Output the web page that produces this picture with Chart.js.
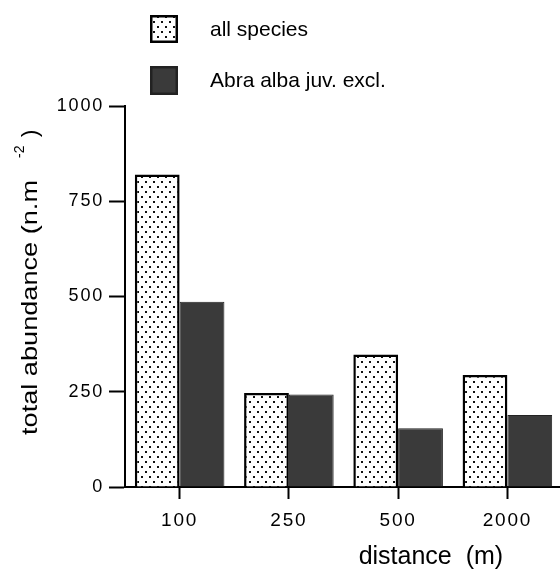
<!DOCTYPE html>
<html>
<head>
<meta charset="utf-8">
<script src="https://cdn.jsdelivr.net/npm/chart.js@4/dist/chart.umd.min.js"></script>
<style>
  html, body { margin: 0; padding: 0; background: #fff; overflow: hidden; }
  #wrap { position: relative; width: 566px; height: 572px; }
</style>
</head>
<body>
<div id="wrap"><canvas id="c"></canvas></div>
<script>
// Sampling distances and abundance values
const distances = ['100', '250', '500', '2000'];
const allSpecies = [820, 247, 348, 294];
const abraExcluded = [486, 243, 154, 189];
const yTicks = [0, 250, 500, 750, 1000];

const seriesNames = ['all species', 'Abra alba juv. excl.'];
const xTitle = 'distance  (m)';
const yTitleMain = 'total abundance (n.m';
const yTitleSup = '-2';
const yTitleEnd = ')';

const FONT = '"Liberation Sans", Arial, Helvetica, sans-serif';
const INK = '#000';

// Stipple fill: staggered dots on white
function makeStipple() {
  const c = document.createElement('canvas');
  c.width = 8; c.height = 10;
  const g = c.getContext('2d');
  g.fillStyle = '#fff';
  g.fillRect(0, 0, 8, 10);
  g.fillStyle = '#111';
  g.fillRect(1, 1, 2, 2);
  g.fillRect(5, 6, 2, 2);
  return g.createPattern(c, 'repeat');
}
const stipple = makeStipple();
const darkFill = '#3a3a3a';

// Wide tick lettering
const tickSpacing = {
  id: 'tickSpacing',
  beforeDraw(chart) { chart.ctx.letterSpacing = '1.8px'; },
  afterDatasetsDraw(chart) { chart.ctx.letterSpacing = '0px'; }
};

// Legend column and axis titles
const captions = {
  id: 'captions',
  afterDraw(chart) {
    const ctx = chart.ctx, a = chart.chartArea;
    ctx.save();
    ctx.letterSpacing = '0px';
    ctx.fillStyle = INK;

    // legend
    const boxes = [{ x: 150, y: 15, w: 28, h: 28 }, { x: 150, y: 66, w: 28, h: 29 }];
    chart.data.datasets.forEach((ds, i) => {
      const b = boxes[i];
      ctx.fillStyle = ds.backgroundColor;
      ctx.fillRect(b.x, b.y, b.w, b.h);
      ctx.lineWidth = 2.5;
      ctx.strokeStyle = i === 0 ? INK : '#222';
      ctx.strokeRect(b.x + 1.25, b.y + 1.25, b.w - 2.5, b.h - 2.5);
      ctx.fillStyle = INK;
      ctx.font = '21px ' + FONT;
      ctx.textAlign = 'left';
      ctx.textBaseline = 'middle';
      ctx.fillText(ds.label, 210, b.y + b.h / 2 + 1);
    });

    // x title
    ctx.font = '25px ' + FONT;
    ctx.textAlign = 'center';
    ctx.textBaseline = 'middle';
    ctx.fillText(xTitle, a.left + 0.70 * (a.right - a.left), 557);

    // y title, rotated, with superscript exponent
    ctx.translate(37, 435);
    ctx.rotate(-Math.PI / 2);
    ctx.textAlign = 'left';
    ctx.textBaseline = 'alphabetic';
    ctx.font = '22px ' + FONT;
    const w = ctx.measureText(yTitleMain).width;
    ctx.save();
    ctx.scale(255 / w, 1);
    ctx.fillText(yTitleMain, 0, 0);
    ctx.restore();
    ctx.font = '14px ' + FONT;
    ctx.fillText(yTitleSup, 277, -13);
    ctx.font = '22px ' + FONT;
    ctx.fillText(yTitleEnd, 298, 0);
    ctx.restore();
  }
};

new Chart(document.getElementById('c'), {
  type: 'bar',
  data: {
    labels: distances,
    datasets: [
      {
        label: seriesNames[0],
        data: allSpecies,
        backgroundColor: stipple,
        borderColor: INK,
        borderWidth: 2.5,
        borderSkipped: 'start'
      },
      {
        label: seriesNames[1],
        data: abraExcluded,
        backgroundColor: darkFill,
        borderColor: '#222',
        borderWidth: 1,
        borderSkipped: 'start'
      }
    ]
  },
  options: {
    responsive: true,
    maintainAspectRatio: false,
    animation: false,
    devicePixelRatio: 1,
    layout: { padding: { top: 106, right: 4, left: 0, bottom: 0 } },
    datasets: { bar: { categoryPercentage: 0.82, barPercentage: 1.0 } },
    plugins: {
      legend: { display: false },
      tooltip: { enabled: false },
      title: { display: false }
    },
    scales: {
      x: {
        offset: true,
        grid: {
          offset: false,
          drawOnChartArea: false,
          drawTicks: true,
          tickLength: 12,
          tickWidth: 2,
          tickColor: INK
        },
        border: { display: true, color: INK, width: 2 },
        ticks: {
          color: INK,
          padding: 10,
          font: { family: FONT, size: 19 }
        },
        afterFit(scale) { scale.height = 85; }
      },
      y: {
        min: 0,
        max: 1000,
        afterBuildTicks(scale) { scale.ticks = yTicks.map(v => ({ value: v })); },
        grid: {
          drawOnChartArea: false,
          drawTicks: true,
          tickLength: 16,
          tickWidth: 2,
          tickColor: INK
        },
        border: { display: true, color: INK, width: 2 },
        ticks: {
          color: INK,
          padding: 5,
          font: { family: FONT, size: 18 },
          callback: v => String(v)
        },
        afterFit(scale) { scale.width = 125; }
      }
    }
  },
  plugins: [tickSpacing, captions]
});
</script>
</body>
</html>
